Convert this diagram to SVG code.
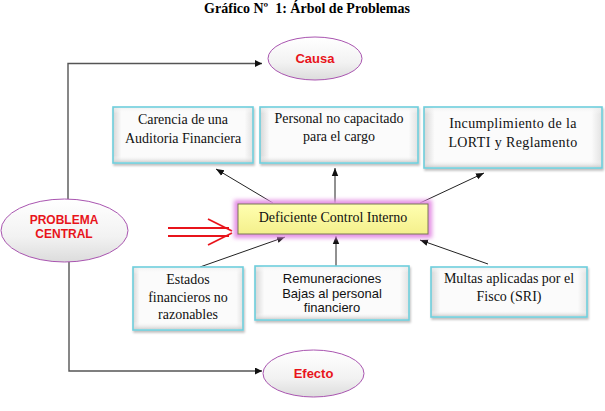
<svg xmlns="http://www.w3.org/2000/svg" width="605" height="411" viewBox="0 0 605 411">
<style>
.title{font-family:"Liberation Serif","Times New Roman",serif;font-weight:bold;font-size:14px;fill:#000;text-anchor:middle}
.lbl{font-family:"Liberation Serif","Times New Roman",serif;font-size:14px;fill:#111;text-anchor:middle}
.sans{font-family:"Liberation Sans",Arial,sans-serif;font-size:13px;fill:#111;text-anchor:middle}
.red{font-family:"Liberation Sans",Arial,sans-serif;font-weight:bold;fill:#e8141b;text-anchor:middle}
.box{fill:url(#bh);stroke:#6fcfdc;stroke-width:1.6;filter:url(#sh)}
.bev{fill:url(#bv);stroke:none}
.ell{fill:url(#eg);stroke:#a955b0;stroke-width:1}
.frame{fill:none;stroke:#555;stroke-width:1.4}
.conn{fill:none;stroke:#222;stroke-width:1}
.redl{fill:none;stroke:#e8141b;stroke-width:1.8}
</style>
<defs>
<linearGradient id="bh" x1="0" y1="0" x2="1" y2="0">
<stop offset="0" stop-color="#d6d6d6"/>
<stop offset="0.06" stop-color="#fbfbfb"/>
<stop offset="0.94" stop-color="#fbfbfb"/>
<stop offset="1" stop-color="#e2e2e2"/>
</linearGradient>
<linearGradient id="bv" x1="0" y1="0" x2="0" y2="1">
<stop offset="0" stop-color="#eeeeee" stop-opacity="0.7"/>
<stop offset="0.1" stop-color="#ffffff" stop-opacity="0"/>
<stop offset="0.88" stop-color="#ffffff" stop-opacity="0"/>
<stop offset="1" stop-color="#cfcfcf" stop-opacity="0.9"/>
</linearGradient>
<linearGradient id="eg" x1="0" y1="0" x2="0" y2="1">
<stop offset="0" stop-color="#ffffff"/>
<stop offset="0.6" stop-color="#f2f2f2"/>
<stop offset="1" stop-color="#dcdcdc"/>
</linearGradient>
<linearGradient id="yg" x1="0" y1="0" x2="0" y2="1">
<stop offset="0" stop-color="#ffffb0"/>
<stop offset="1" stop-color="#f4f08c"/>
</linearGradient>
<filter id="sh" x="-10%" y="-10%" width="125%" height="130%">
<feDropShadow dx="1" dy="2" stdDeviation="1.2" flood-color="#000" flood-opacity="0.25"/>
</filter>
<filter id="glow" x="-20%" y="-50%" width="140%" height="200%">
<feGaussianBlur stdDeviation="2"/>
</filter>
<marker id="ah" viewBox="0 0 10 10" refX="10" refY="5" markerWidth="7" markerHeight="7" orient="auto" markerUnits="userSpaceOnUse">
<path d="M0,0 L10,5 L0,10 z" fill="#111"/>
</marker>
<marker id="ahs" viewBox="0 0 10 10" refX="10" refY="5" markerWidth="8" markerHeight="8" orient="auto" markerUnits="userSpaceOnUse">
<path d="M0,1 L10,5 L0,9 z" fill="#111"/>
</marker>
</defs>

<text class="title" x="307" y="13">Gráfico Nº&#160; 1: Árbol de Problemas</text>

<g id="connectors">
<path class="frame" d="M68,199 V63.5 H262" marker-end="url(#ah)"/>
<path class="frame" d="M69,262 V371 H262" marker-end="url(#ah)"/>
<line class="conn" x1="273" y1="203" x2="216" y2="169" marker-end="url(#ahs)"/>
<line class="conn" x1="335" y1="203" x2="335" y2="168" marker-end="url(#ahs)"/>
<line class="conn" x1="420" y1="203" x2="484" y2="173" marker-end="url(#ahs)"/>
<line class="conn" x1="200" y1="267" x2="285" y2="237" marker-end="url(#ahs)"/>
<line class="conn" x1="336" y1="266" x2="336" y2="236" marker-end="url(#ahs)"/>
<line class="conn" x1="488" y1="264" x2="420" y2="240" marker-end="url(#ahs)"/>
<g id="red-arrow">
<line class="redl" x1="168" y1="228" x2="229" y2="228"/>
<line class="redl" x1="168" y1="236" x2="229" y2="236"/>
<line class="redl" x1="208" y1="219" x2="232" y2="231"/>
<line class="redl" x1="208" y1="245" x2="232" y2="233"/>
</g>
</g>

<g id="causa">
<ellipse class="ell" cx="315" cy="58.5" rx="47" ry="21.5"/>
<text class="red" x="315" y="63" font-size="13">Causa</text>
</g>

<g id="problema-central">
<ellipse class="ell" cx="64.5" cy="230.5" rx="63.5" ry="31.5"/>
<text class="red" x="64" y="224" font-size="12">PROBLEMA</text>
<text class="red" x="64" y="238" font-size="12">CENTRAL</text>
</g>

<g id="efecto">
<ellipse class="ell" cx="313.5" cy="373.5" rx="50.5" ry="23.5"/>
<text class="red" x="313.5" y="378" font-size="13">Efecto</text>
</g>

<g id="carencia">
<rect class="box" x="113" y="107" width="140" height="56"/>
<rect class="bev" x="114" y="108" width="138" height="54"/>
<text class="lbl" x="183" y="124">Carencia de una</text>
<text class="lbl" x="183" y="143">Auditoria Financiera</text>
</g>

<g id="personal">
<rect class="box" x="260" y="107" width="158" height="56"/>
<rect class="bev" x="261" y="108" width="156" height="54"/>
<text class="lbl" x="339" y="123">Personal no capacitado</text>
<text class="lbl" x="339" y="141">para el cargo</text>
</g>

<g id="incumplimiento">
<rect class="box" x="424" y="107" width="178" height="61"/>
<rect class="bev" x="425" y="108" width="176" height="59"/>
<text class="lbl" x="513" y="128" font-size="14.5" letter-spacing="0.4">Incumplimiento de la</text>
<text class="lbl" x="513" y="147" font-size="14.5" letter-spacing="0.4">LORTI y Reglamento</text>
</g>

<g id="deficiente">
<rect x="234" y="200" width="198" height="38" fill="#e590e5" filter="url(#glow)"/>
<rect x="238" y="204" width="190" height="30" fill="url(#yg)" stroke="#7a7a55" stroke-width="1"/>
<text class="lbl" x="333" y="222" font-size="15">Deficiente Control Interno</text>
</g>

<g id="estados">
<rect class="box" x="133" y="267" width="110" height="63"/>
<rect class="bev" x="134" y="268" width="108" height="61"/>
<text class="lbl" x="188" y="284">Estados</text>
<text class="lbl" x="188" y="302">financieros no</text>
<text class="lbl" x="188" y="319">razonables</text>
</g>

<g id="remuneraciones">
<rect class="box" x="255" y="266" width="154" height="54"/>
<rect class="bev" x="256" y="267" width="152" height="52"/>
<text class="sans" x="332" y="283">Remuneraciones</text>
<text class="sans" x="332" y="298">Bajas al personal</text>
<text class="sans" x="332" y="312">financiero</text>
</g>

<g id="multas">
<rect class="box" x="431" y="267" width="156" height="50"/>
<rect class="bev" x="432" y="268" width="154" height="48"/>
<text class="lbl" x="509" y="283">Multas aplicadas por el</text>
<text class="lbl" x="509" y="301">Fisco (SRI)</text>
</g>
</svg>
